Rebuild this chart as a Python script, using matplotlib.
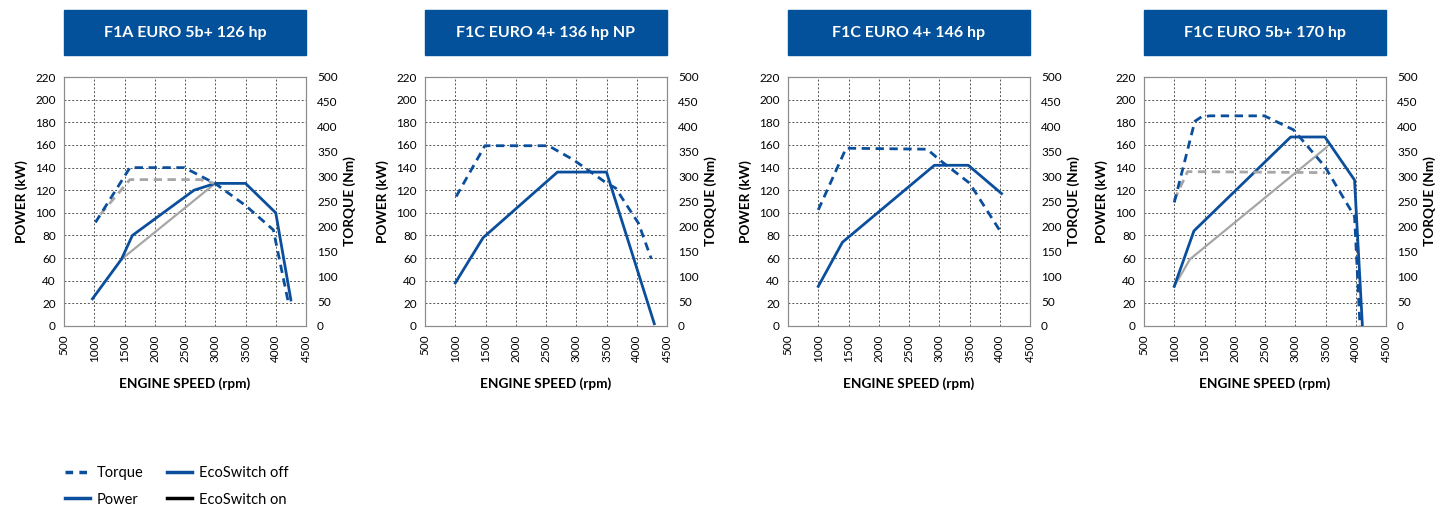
import matplotlib
matplotlib.use('Agg')
import matplotlib.pyplot as plt
from matplotlib.patches import Rectangle
from matplotlib.lines import Line2D

plt.rcParams['font.family'] = ['Lato', 'DejaVu Sans']

titles = ['F1A EURO 5b+ 126 hp', 'F1C EURO 4+ 136 hp NP',
          'F1C EURO 4+ 146 hp', 'F1C EURO 5b+ 170 hp']

# power, EcoSwitch off (rpm, kW)
pw_rpm = [[970, 1450, 1630, 2650, 3000, 3500, 4000, 4250],
          [1000, 1460, 2690, 3500, 4290],
          [1000, 1400, 2920, 3480, 4030],
          [1000, 1325, 2925, 3490, 3980, 4110]]
pw_kw = [[24, 59, 80, 120, 126, 126, 100, 23],
         [38, 78, 136, 136, 2],
         [35, 74, 142, 142, 117],
         [35, 84, 167, 167, 129, 0]]

# power, EcoSwitch on
pw_eco_rpm = [[1450, 3000], [], [], [1000, 1260, 3520]]
pw_eco_kw = [[59, 126], [], [], [35, 59, 158]]

# torque, EcoSwitch off (rpm, Nm)
tq_rpm = [[1020, 1590, 2490, 3000, 3500, 3960, 4210],
          [1015, 1490, 2540, 2950, 3500, 3650, 4030, 4240],
          [1000, 1460, 2800, 3000, 3500, 4010],
          [1000, 1340, 1450, 1590, 2490, 2970, 3490, 3980, 4070]]
tq_nm = [[208, 318, 318, 286, 242, 193, 46],
         [260, 362, 362, 334, 287, 277, 206, 135],
         [233, 357, 355, 334, 287, 190],
         [248, 411, 420, 422, 422, 394, 320, 220, 0]]

# torque, EcoSwitch on
tq_eco_rpm = [[1100, 1590, 2750, 3000], [], [], [1000, 1220, 3490]]
tq_eco_nm = [[224, 294, 294, 286], [], [], [253, 310, 308]]

blue = '#0b4f9c'
grey = '#a6a6a6'
dash = (0, (3, 2))

W, H = 1437, 507
fig = plt.figure(figsize=(W / 100, H / 100), dpi=100)

lefts = [64, 425, 788, 1144]
aw = 242
for i, lx in enumerate(lefts):
    ax = fig.add_axes([lx / W, 1 - 326 / H, aw / W, 249 / H])
    ax2 = ax.twinx()
    ax.set_xlim(500, 4500)
    ax.set_ylim(0, 220)
    ax2.set_ylim(0, 500)
    ax.set_xticks(range(500, 4501, 500))
    ax.set_yticks(range(0, 221, 20))
    ax2.set_yticks(range(0, 501, 50))
    ax.tick_params(axis='x', labelrotation=90, length=0, pad=6, labelsize=8.5)
    ax.tick_params(axis='y', length=0, pad=6, labelsize=8.5)
    ax2.tick_params(axis='y', length=0, pad=8, labelsize=8.5)
    ax.grid(True, color='#555555', linestyle=(0, (2, 2)), linewidth=0.7)
    for a in (ax, ax2):
        for s in a.spines.values():
            s.set_color('#8c8c8c')
            s.set_linewidth(0.8)
    ax.set_ylabel('POWER (kW)', fontsize=9.8, fontweight='bold', labelpad=5)
    ax2.set_ylabel('TORQUE (Nm)', fontsize=9.8, fontweight='bold', labelpad=4)
    ax.set_xlabel('ENGINE SPEED (rpm)', fontsize=9.8, fontweight='bold', labelpad=11)

    if pw_eco_rpm[i]:
        ax.plot(pw_eco_rpm[i], pw_eco_kw[i], color=grey, lw=1.6, zorder=3)
    ax.plot(pw_rpm[i], pw_kw[i], color=blue, lw=2.0, zorder=4)
    if tq_eco_rpm[i]:
        ax2.plot(tq_eco_rpm[i], tq_eco_nm[i], color=grey, lw=2.0, ls=dash, zorder=3)
    ax2.plot(tq_rpm[i], tq_nm[i], color=blue, lw=2.0, ls=dash, zorder=4)

    fig.patches.append(Rectangle((lx / W, 1 - 55 / H), aw / W, 45 / H,
                                 transform=fig.transFigure, color='#03509b'))
    fig.text((lx + aw / 2) / W, 1 - 32.5 / H, titles[i], color='white',
             fontsize=11.5, fontweight='bold', ha='center', va='center')

handles = [Line2D([], [], color=blue, lw=2.5, ls=(0, (2.2, 1.8))),
           Line2D([], [], color=blue, lw=2.5),
           Line2D([], [], color=blue, lw=2.5),
           Line2D([], [], color='black', lw=2.5)]
labels = ['Torque', 'Power', 'EcoSwitch off', 'EcoSwitch on']
fig.legend(handles, labels, ncol=2, loc='lower left', bbox_to_anchor=(0.036, -0.025),
           frameon=False, fontsize=10.5, handlelength=1.7, handletextpad=0.5,
           columnspacing=1.6, labelspacing=0.85)

fig.savefig('out.png', dpi=100)
